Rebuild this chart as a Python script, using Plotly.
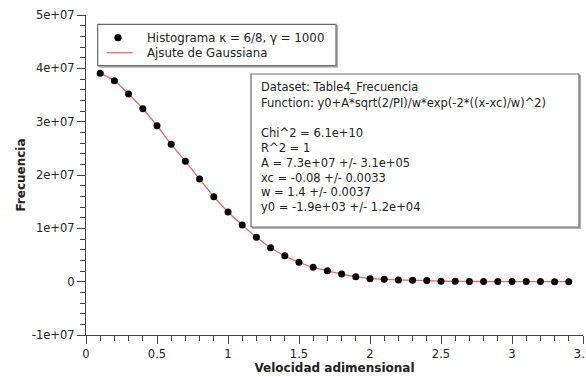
import plotly.graph_objects as go

# Histogram of the dimensionless velocity (bin centres) and counts
velocidad = [0.1, 0.2, 0.3, 0.4, 0.5, 0.6, 0.7, 0.8, 0.9, 1.0,
             1.1, 1.2, 1.3, 1.4, 1.5, 1.6, 1.7, 1.8, 1.9, 2.0,
             2.1, 2.2, 2.3, 2.4, 2.5, 2.6, 2.7, 2.8, 2.9, 3.0,
             3.1, 3.2, 3.3, 3.4]
frecuencia = [3.906e7, 3.768e7, 3.518e7, 3.243e7, 2.924e7, 2.575e7, 2.257e7, 1.925e7, 1.593e7, 1.306e7,
              1.063e7, 8.32e6, 6.37e6, 4.85e6, 3.64e6, 2.70e6, 2.06e6, 1.44e6, 9.4e5, 5.6e5,
              4.5e5, 3.2e5, 2.5e5, 2.0e5, 1.0e5, 6.0e4, 4.0e4, 3.0e4, 2.0e4, 1.5e4,
              1.0e4, 8.0e3, 5.0e3, 3.0e3]

# Gaussian fit evaluated at the same centres
ajuste = frecuencia

x_ticks = [0, 0.5, 1, 1.5, 2, 2.5, 3, 3.5]
x_ticktext = ["0", "0.5", "1", "1.5", "2", "2.5", "3", "3.5"]
y_ticks = [-1e7, 0, 1e7, 2e7, 3e7, 4e7, 5e7]
y_ticktext = ["-1e+07", "0", "1e+07", "2e+07", "3e+07", "4e+07", "5e+07"]

legend_names = ["Histograma κ = 6/8, γ = 1000", "Ajsute de Gaussiana"]

fit_report = [
    "Dataset: Table4_Frecuencia",
    "Function: y0+A*sqrt(2/PI)/w*exp(-2*((x-xc)/w)^2)",
    "Chi^2 = 6.1e+10",
    "R^2 = 1",
    "A = 7.3e+07 +/- 3.1e+05",
    "xc = -0.08 +/- 0.0033",
    "w = 1.4 +/- 0.0037",
    "y0 = -1.9e+03 +/- 1.2e+04",
]

FONT = "DejaVu Sans"
TXT = "#222222"
AX = "#444444"
FIT_COLOR = "#e8686b"

W, H = 586, 377
ML, MR, MT, MB = 86, 3, 15, 42
PW, PH = W - ML - MR, H - MT - MB


def px(xp):
    return (xp - ML) / PW


def py(yp):
    return 1 - (yp - MT) / PH


fig = go.Figure()
fig.add_trace(go.Scatter(
    x=velocidad, y=ajuste, mode="lines", name=legend_names[1],
    line=dict(color=FIT_COLOR, width=1.3, shape="spline", smoothing=0.8),
))
fig.add_trace(go.Scatter(
    x=velocidad, y=frecuencia, mode="markers", name=legend_names[0],
    marker=dict(color="black", size=7),
))

axis_common = dict(
    showgrid=False, zeroline=False, showline=True, linecolor=AX, linewidth=1.2,
    ticks="outside", ticklen=8, tickwidth=1.1, tickcolor=AX,
    tickfont=dict(family=FONT, size=11.5, color=TXT),
    ticklabeloverflow="allow", automargin=False,
)
fig.update_xaxes(
    range=[0, 3.5], tickvals=x_ticks, ticktext=x_ticktext,
    minor=dict(dtick=0.1, tick0=0, ticks="outside", ticklen=5, tickwidth=1, tickcolor=AX),
    title=dict(text="<b>Velocidad adimensional</b>", font=dict(family=FONT, size=12, color=TXT), standoff=1),
    **axis_common,
)
fig.update_yaxes(
    range=[-1e7, 5e7], tickvals=y_ticks, ticktext=y_ticktext,
    minor=dict(dtick=2e6, tick0=0, ticks="outside", ticklen=5, tickwidth=1, tickcolor=AX),
    title=dict(text="<b>Frecuencia</b>", font=dict(family=FONT, size=12, color=TXT), standoff=3),
    **axis_common,
)


def framed_box(x0, y0, x1, y1):
    # white panel with a thin grey frame and a slight drop shadow
    return [
        dict(type="rect", xref="paper", yref="paper",
             x0=px(x0 + 1.5), x1=px(x1 + 1.5), y0=py(y1 + 1.5), y1=py(y0 + 1.5),
             line=dict(color="#b5b5b5", width=1.2), fillcolor="#b5b5b5", layer="above"),
        dict(type="rect", xref="paper", yref="paper",
             x0=px(x0), x1=px(x1), y0=py(y1), y1=py(y0),
             line=dict(color="#6a6a6a", width=1.2), fillcolor="white", layer="above"),
    ]


shapes = []
shapes += framed_box(97.7, 24.3, 336, 65.7)
shapes += framed_box(251, 74, 579, 227)
# legend keys
shapes.append(dict(type="circle", xref="paper", yref="paper",
                   x0=px(114.6), x1=px(121.4), y0=py(41.1), y1=py(34.3),
                   fillcolor="black", line=dict(color="black", width=0.5), layer="above"))
shapes.append(dict(type="line", xref="paper", yref="paper",
                   x0=px(106.7), x1=px(132.7), y0=py(52.7), y1=py(52.7),
                   line=dict(color=FIT_COLOR, width=1.3), layer="above"))
fig.update_layout(shapes=shapes)

for text, yy in zip(legend_names, [37.7, 52.7]):
    fig.add_annotation(text=text, xref="paper", yref="paper", x=px(144.5), y=py(yy),
                       xanchor="left", yanchor="middle", showarrow=False,
                       font=dict(family=FONT, size=11.8, color=TXT))

line_y = [87.3, 102.7, 133.3, 148.0, 162.7, 177.7, 192.3, 207.3]
for text, yy in zip(fit_report, line_y):
    fig.add_annotation(text=text, xref="paper", yref="paper", x=px(259), y=py(yy),
                       xanchor="left", yanchor="middle", showarrow=False,
                       font=dict(family=FONT, size=11.5, color=TXT))

fig.update_layout(
    width=W, height=H,
    margin=dict(l=ML, r=MR, t=MT, b=MB, autoexpand=False),
    paper_bgcolor="white", plot_bgcolor="white",
    font=dict(family=FONT, size=11, color=TXT),
    showlegend=False,
)

fig.write_html("out.html")
